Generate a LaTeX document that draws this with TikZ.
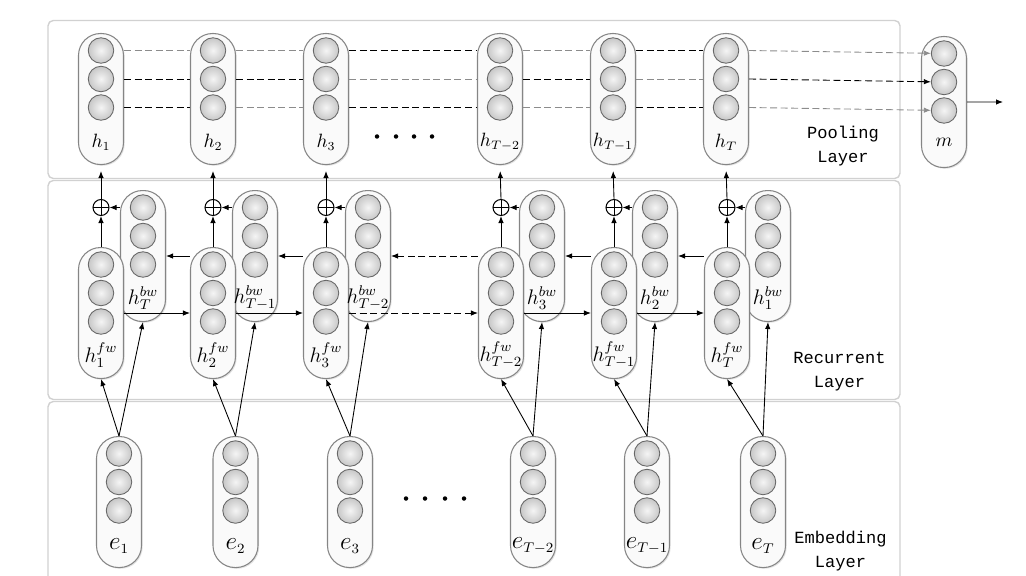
\documentclass[tikz,border=0pt]{standalone}
\usepackage{fontspec}
\newfontfamily\layerfont{Liberation Mono}
\DeclareMathSizes{15}{15}{8.5}{7}
\usetikzlibrary{arrows.meta, positioning, calc, shadows}
\colorlet{lgray}{black!45}
\tikzset{
    layerframe/.style={draw=black!18, rounded corners=3pt, line width=0.8pt},
    capsule/.style={draw=black!48, fill=black!2, rounded corners=0.44cm, minimum width=0.9cm, minimum height=2.62cm, line width=0.6pt, anchor=north,
        drop shadow={shadow xshift=0.7pt, shadow yshift=-0.7pt, opacity=0.22, fill=black!50}},
    unit/.style={circle, draw=black!60, line width=0.5pt, minimum size=0.51cm, inner sep=0pt, shading=radial, inner color=black!4, outer color=black!22},
    caplabel/.style={inner sep=0pt},
    plusnode/.style={circle, draw, minimum size=0.32cm, inner sep=0pt, line width=0.6pt,
        path picture={\draw[line width=0.5pt] (path picture bounding box.north) -- (path picture bounding box.south)
                                             (path picture bounding box.west) -- (path picture bounding box.east);}},
    arr/.style={-{Latex[length=1.4mm, width=1.1mm]}, line width=0.5pt},
    dashline/.style={dash pattern=on 4pt off 2pt, line width=0.5pt},
    layerlabel/.style={font=\layerfont\fontsize{9.7}{13.6}\selectfont, align=center},
}

\begin{document}
\begin{tikzpicture}
    \useasboundingbox (0,0) rectangle (20.52,-11.52);
    \clip (0,0) rectangle (20.52,-11.52);

    % Layer frames
    \draw[layerframe] (0.96,-0.41) rectangle (18.0,-3.57);
    \draw[layerframe] (0.96,-3.61) rectangle (18.0,-7.99);
    \draw[layerframe] (0.96,-8.03) rectangle (18.0,-12.4);

    % Pooling layer
    \node[capsule] (p1) at (2.02,-0.66) {};
    \node[capsule] (p2) at (4.26,-0.66) {};
    \node[capsule] (p3) at (6.52,-0.66) {};
    \node[capsule] (p4) at (10.0,-0.66) {};
    \node[capsule] (p5) at (12.26,-0.66) {};
    \node[capsule] (p6) at (14.52,-0.66) {};
    \node[capsule] (m) at (18.88,-0.72) {};

    % Recurrent layer, backward states
    \node[capsule] (b1) at (2.86,-3.8) {};
    \node[capsule] (b2) at (5.10,-3.8) {};
    \node[capsule] (b3) at (7.36,-3.8) {};
    \node[capsule] (b4) at (10.84,-3.8) {};
    \node[capsule] (b5) at (13.10,-3.8) {};
    \node[capsule] (b6) at (15.36,-3.8) {};

    % Recurrent layer, forward states
    \node[capsule] (f1) at (2.02,-4.94) {};
    \node[capsule] (f2) at (4.26,-4.94) {};
    \node[capsule] (f3) at (6.52,-4.94) {};
    \node[capsule] (f4) at (10.02,-4.94) {};
    \node[capsule] (f5) at (12.28,-4.94) {};
    \node[capsule] (f6) at (14.54,-4.94) {};

    % Embedding layer
    \node[capsule] (e1) at (2.38,-8.72) {};
    \node[capsule] (e2) at (4.71,-8.72) {};
    \node[capsule] (e3) at (7.00,-8.72) {};
    \node[capsule] (e4) at (10.66,-8.72) {};
    \node[capsule] (e5) at (12.94,-8.72) {};
    \node[capsule] (e6) at (15.26,-8.72) {};

    % Units inside every capsule
    \foreach \n in {p1,p2,p3,p4,p5,p6,m,b1,b2,b3,b4,b5,b6,f1,f2,f3,f4,f5,f6,e1,e2,e3,e4,e5,e6}
        \foreach \k/\d in {1/0.35,2/0.92,3/1.49}
            \node[unit] (\n-\k) at ([yshift=-\d cm]\n.north) {};

    % Capsule labels
    \foreach \n/\t in {p1/h_1, p2/h_2, p3/h_3, p4/h_{T-2}, p5/h_{T-1}, p6/h_T}
        \node[caplabel, font=\fontsize{10.5}{12}\selectfont] (\n-lab) at ([yshift=-2.18cm]\n.north) {$\t$};
    \node[caplabel, font=\fontsize{11}{13}\selectfont] (m-lab) at ([yshift=-2.12cm]m.north) {$m$};
    \foreach \n/\t in {b1/T, b2/T-1, b3/T-2, b4/3, b5/2, b6/1}
        \node[caplabel, font=\fontsize{12}{14}\selectfont] (\n-lab) at ([yshift=-2.16cm]\n.north) {$h_{\t}^{bw}$};
    \foreach \n/\t in {f1/1, f2/2, f3/3, f4/T-2, f5/T-1, f6/T}
        \node[caplabel, font=\fontsize{12}{14}\selectfont] (\n-lab) at ([yshift=-2.16cm]\n.north) {$h_{\t}^{fw}$};
    \foreach \n/\t in {e1/1, e2/2, e3/3, e4/T-2, e5/T-1, e6/T}
        \node[caplabel, font=\fontsize{15}{17}\selectfont] (\n-lab) at ([yshift=-2.2cm]\n.north) {$e_{\t}$};

    % Sum nodes
    \node[plusnode] (s1) at (2.02,-4.15) {};
    \node[plusnode] (s2) at (4.26,-4.15) {};
    \node[plusnode] (s3) at (6.52,-4.15) {};
    \node[plusnode] (s4) at (10.02,-4.15) {};
    \node[plusnode] (s5) at (12.28,-4.15) {};
    \node[plusnode] (s6) at (14.54,-4.15) {};

    % Pooling connections
    \foreach \a/\b/\ca/\cb/\cc in {p1/p2/lgray/black/black, p2/p3/lgray/black/lgray, p3/p4/black/lgray/black,
                                   p4/p5/lgray/black/lgray, p5/p6/black/lgray/black} {
        \draw[dashline, draw=\ca] (\a.east |- \a-1) -- (\b.west |- \b-1);
        \draw[dashline, draw=\cb] (\a.east |- \a-2) -- (\b.west |- \b-2);
        \draw[dashline, draw=\cc] (\a.east |- \a-3) -- (\b.west |- \b-3);
    }
    \draw[dashline, arr, draw=lgray] (p6.east |- p6-1) -- (m-1);
    \draw[dashline, arr] (p6.east |- p6-2) -- (m-2);
    \draw[dashline, arr, draw=lgray] (p6.east |- p6-3) -- (m-3);
    \coordinate (out) at (20.06,-2.04);
    \draw[arr] (m.east) -- (out);

    % Recurrent connections
    \foreach \i in {1,...,6} {
        \draw[arr] (f\i.north) -- (s\i.south);
        \draw[arr] (b\i.west |- s\i) -- (s\i.east);
        \draw[arr, shorten >=0.12cm] (s\i.north) -- (p\i.south);
        \draw[arr] (e\i.north) -- (f\i.south);
        \draw[arr] (e\i.north) -- (b\i.south);
    }
    \foreach \i/\j in {1/2, 2/3, 4/5, 5/6} {
        \draw[arr] (f\i.east) -- (f\j.west);
        \draw[arr] (f\j.west |- b\j) -- (b\i.east);
    }
    \draw[arr, dashline] (f3.east) -- (f4.west);
    \draw[arr, dashline] (f4.west |- b4) -- (b3.east);

    % Dots
    \foreach \x in {7.54,7.92,8.28,8.64}
        \fill (\x,-2.73) circle (0.045);
    \foreach \x in {8.12,8.5,8.9,9.28}
        \fill (\x,-9.97) circle (0.045);

    % Layer names
    \node[layerlabel] (poollab) at (16.86,-2.92) {Pooling\\Layer};
    \node[layerlabel] (reclab) at (16.79,-7.44) {Recurrent\\Layer};
    \node[layerlabel] (emblab) at (16.81,-11.03) {Embedding\\Layer};
\end{tikzpicture}
\end{document}
